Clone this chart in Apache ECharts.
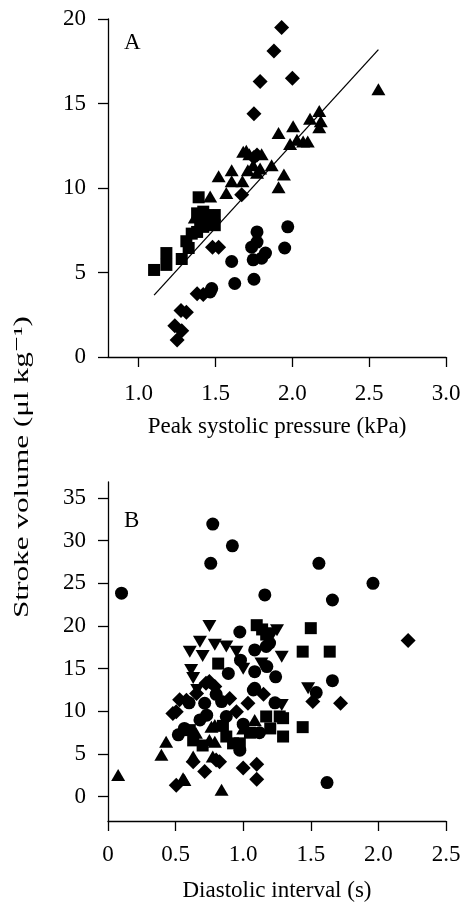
<!DOCTYPE html>
<html>
<head>
<meta charset="utf-8">
<script src="https://cdn.jsdelivr.net/npm/echarts@6/dist/echarts.min.js"></script>
<style>
html, body { margin: 0; padding: 0; background: #fff; }
#main { width: 460px; height: 902px; }
</style>
</head>
<body>
<div id="main"></div>
<script>
// panel A: stroke volume vs peak systolic pressure
var aTicksX = [1.0, 1.5, 2.0, 2.5, 3.0];
var aTicksY = [0, 5, 10, 15, 20];
var aDiamond = [[1.93,19.5],[1.88,18.1],[1.79,16.3],[2.00,16.5],[1.75,14.4],[1.77,11.95],[1.75,11.8],
    [1.67,9.6],[1.48,6.5],[1.52,6.5],[1.38,3.75],[1.42,3.7],[1.275,2.75],[1.31,2.65],[1.235,1.85],[1.28,1.55],[1.25,1.0]];
var aTriangle = [[2.56,15.85],[2.175,14.55],[2.115,14.1],[2.185,13.95],[2.175,13.6],[2.005,13.65],[1.91,13.25],
    [1.985,12.6],[2.03,12.85],[2.07,12.75],[2.10,12.75],[1.865,11.35],[1.945,10.8],[1.91,10.05],[1.68,12.15],
    [1.52,10.7],[1.605,11.05],[1.605,10.4],[1.675,10.4],[1.57,9.7],[1.77,10.9],[1.79,11.15],[1.71,11.05],
    [1.745,11.35],[1.465,9.5],[1.365,8.25],[1.485,8.4],[1.72,12.0],[1.80,12.0],[1.70,12.2]];
var aSquare = [[1.10,5.15],[1.18,6.15],[1.18,5.45],[1.28,5.8],[1.31,6.85],[1.325,6.45],[1.345,7.3],[1.38,7.4],
    [1.39,9.45],[1.38,8.5],[1.42,8.6],[1.40,8.0],[1.445,8.1],[1.495,7.8],[1.495,8.4],[1.42,7.7]];
var aCircle = [[1.605,5.65],[1.625,4.35],[1.475,4.05],[1.465,3.85],[1.75,4.6],[1.745,5.75],[1.80,5.85],
    [1.825,6.15],[1.735,6.5],[1.77,7.4],[1.77,6.8],[1.95,6.45],[1.97,7.7]];
var aFit = [[1.10,3.66],[2.56,18.19]];

// panel B: stroke volume vs diastolic interval
var bTicksY = [0, 5, 10, 15, 20, 25, 30, 35];
var bCircle = [[0.10,23.85],[0.775,31.95],[0.92,29.4],[0.76,27.35],[1.16,23.65],[1.56,27.35],[1.96,25.0],
    [1.66,23.05],[1.66,13.6],[1.54,12.2],[1.62,1.65],[1.24,14.05],[1.175,15.25],[1.235,11.0],[1.085,12.7],
    [0.89,14.45],[1.085,14.65],[1.075,12.5],[0.84,11.15],[0.875,9.4],[0.52,7.25],[0.565,8.0],[0.715,10.95],
    [0.73,9.55],[0.975,5.45],[0.68,9.0],[1.195,18.0],[1.17,17.6],[0.975,19.3],[1.085,17.2],[0.98,16.0],
    [0.80,12.0],[1.0,8.5],[1.12,7.5],[0.6,11.0]];
var bSquare = [[1.50,19.75],[1.44,17.0],[1.64,17.0],[1.44,8.15],[1.295,7.05],[1.295,9.2],[1.10,20.1],
    [0.815,15.6],[0.875,7.05],[0.925,6.25],[0.975,6.25],[0.605,7.8],[0.63,6.6],[1.17,9.4],[1.27,9.4],
    [1.14,19.6],[1.17,19.0],[1.05,7.5],[0.85,8.3],[1.2,8.0],[0.70,6.0]];
var bTriangle = [[0.075,2.55],[0.43,6.45],[0.395,4.9],[0.84,0.8],[0.565,1.95],[0.79,8.4],[0.775,4.7],
    [0.63,4.7],[1.085,9.0],[0.75,6.65],[0.555,2.15],[0.79,6.45],[0.765,8.2],[1.0,8.0],[0.65,7.5]];
var bDown = [[0.605,17.0],[0.68,18.15],[0.615,14.85],[0.63,13.9],[0.875,17.6],[0.79,17.8],[1.135,15.6],
    [1.285,16.4],[1.48,12.7],[1.22,19.15],[1.285,10.75],[0.75,20.0],[1.25,19.5],[0.95,17.0],[0.66,12.5],
    [1.0,15.0],[0.70,16.5]];
var bDiamond = [[2.22,18.3],[1.72,10.95],[1.515,11.15],[1.10,3.8],[1.10,2.05],[0.505,1.35],[0.48,9.75],
    [0.715,2.95],[0.80,4.3],[1.0,3.35],[0.53,11.35],[0.505,9.95],[0.725,13.3],[0.79,12.9],[0.58,11.3],
    [0.655,12.1],[0.75,13.5],[1.035,10.95],[0.95,9.95],[0.825,4.1],[0.63,4.1],[1.15,12.0],[0.9,11.5]];

var FONT = 'Liberation Serif';
var axisLine = {show: true, onZero: false, lineStyle: {color: '#000', width: 1.3}};
var axisTick = {show: true, length: 10, lineStyle: {color: '#000', width: 1.3}};
var lbl = {color: '#000', fontFamily: FONT, fontSize: 23};
var nameStyle = {color: '#000', fontFamily: FONT, fontSize: 23};

function pts(name, data, sym, size, idx, rot) {
    return {
        name: name, type: 'scatter', xAxisIndex: idx, yAxisIndex: idx,
        data: data, symbol: sym, symbolSize: size, symbolRotate: rot || 0,
        itemStyle: {color: '#000', opacity: 1}, silent: true
    };
}

var myChart = echarts.init(document.getElementById('main'));
var option = {
    animation: false,
    backgroundColor: '#fff',
    grid: [
        {left: 108, top: 19, width: 338, height: 338, outerBoundsMode: 'none', containLabel: false},
        {left: 108, top: 482, width: 338, height: 339, outerBoundsMode: 'none', containLabel: false}
    ],
    xAxis: [
        {
            type: 'value', gridIndex: 0, min: 0.8, max: 3.0,
            name: 'Peak systolic pressure (kPa)', nameLocation: 'middle', nameGap: 58,
            nameTextStyle: nameStyle,
            axisLine: axisLine,
            axisTick: Object.assign({customValues: aTicksX}, axisTick),
            axisLabel: Object.assign({customValues: aTicksX, margin: 25,
                formatter: function (v) { return v.toFixed(1); }}, lbl),
            splitLine: {show: false}
        },
        {
            type: 'value', gridIndex: 1, min: 0, max: 2.5, interval: 0.5,
            name: 'Diastolic interval (s)', nameLocation: 'middle', nameGap: 58,
            nameTextStyle: nameStyle,
            axisLine: axisLine, axisTick: axisTick,
            axisLabel: Object.assign({margin: 22,
                formatter: function (v) { return v === 0 ? '0' : v.toFixed(1); }}, lbl),
            splitLine: {show: false}
        }
    ],
    yAxis: [
        {
            type: 'value', gridIndex: 0, min: 0, max: 20,
            axisLine: axisLine,
            axisTick: Object.assign({customValues: aTicksY}, axisTick),
            axisLabel: Object.assign({customValues: aTicksY, margin: 22}, lbl),
            splitLine: {show: false}
        },
        {
            type: 'value', gridIndex: 1, min: -2.85, max: 36.88,
            axisLine: axisLine,
            axisTick: Object.assign({customValues: bTicksY}, axisTick),
            axisLabel: Object.assign({customValues: bTicksY, margin: 22}, lbl),
            splitLine: {show: false}
        }
    ],
    graphic: [
        {type: 'text', left: 124, top: 31, style: {text: 'A', font: '23px "Liberation Serif"', fill: '#000'}},
        {type: 'text', left: 124, top: 509, style: {text: 'B', font: '23px "Liberation Serif"', fill: '#000'}},
        {type: 'text', x: 22, y: 467, rotation: Math.PI / 2, scaleX: 1.42,
            style: {text: 'Stroke volume (\u03bcl kg\u207b\u00b9)', font: '22px "Liberation Serif", "DejaVu Serif"',
                fill: '#000', align: 'center', verticalAlign: 'middle'}}
    ],
    series: [
        {
            type: 'line', xAxisIndex: 0, yAxisIndex: 0, data: aFit, showSymbol: false,
            lineStyle: {color: '#000', width: 1.3}, silent: true
        },
        pts('A diamond', aDiamond, 'diamond', 15, 0),
        pts('A triangle', aTriangle, 'triangle', [14, 12], 0),
        pts('A square', aSquare, 'rect', 12, 0),
        pts('A circle', aCircle, 'circle', 13, 0),
        pts('B circle', bCircle, 'circle', 13, 1),
        pts('B square', bSquare, 'rect', 12, 1),
        pts('B triangle', bTriangle, 'triangle', [14, 12], 1),
        pts('B down', bDown, 'triangle', [14, 12], 1, 180),
        pts('B diamond', bDiamond, 'diamond', 15, 1)
    ]
};
myChart.setOption(option);
</script>
</body>
</html>
